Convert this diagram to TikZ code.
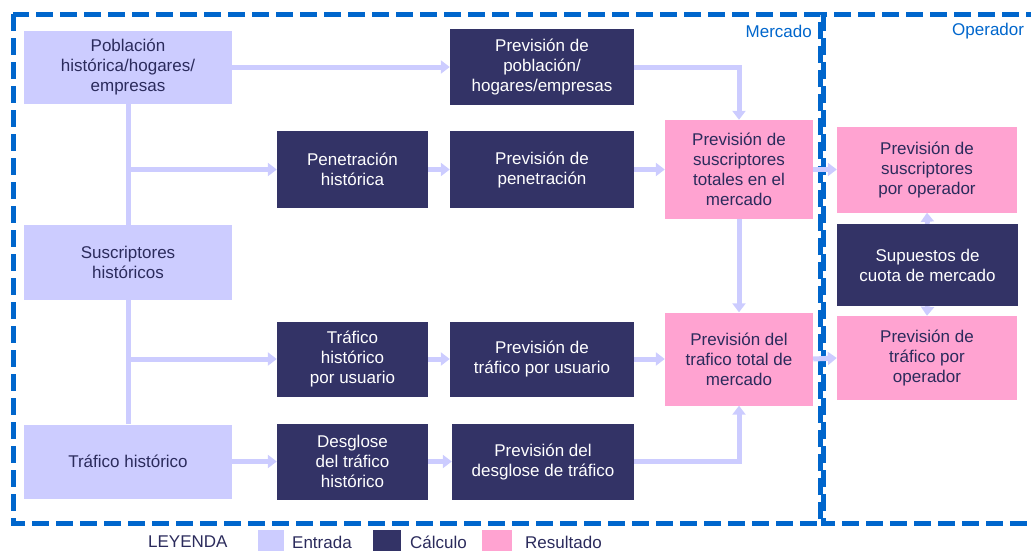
\documentclass[tikz,border=0pt]{standalone}
\usepackage{fontspec}
\setmainfont{Liberation Sans}
\usetikzlibrary{arrows.meta}
\definecolor{navy}{HTML}{333366}
\definecolor{lav}{HTML}{CCCCFF}
\definecolor{pinkr}{HTML}{FFA3D1}
\definecolor{dblue}{HTML}{0066CC}
\definecolor{txtnavy}{HTML}{2B2B5C}
\begin{document}
\begin{tikzpicture}[x=1pt,y=-1pt,
 box/.style={rectangle, inner sep=2pt, align=center, font=\fontsize{17}{20}\selectfont},
 sz/.style 2 args={minimum width=#1pt, minimum height=#2pt},
 inbox/.style={box, fill=lav, text=txtnavy},
 calcbox/.style={box, fill=navy, text=white},
 resbox/.style={box, fill=pinkr, text=txtnavy},
 conn/.style={draw=lav, line width=5pt},
 arr/.style={conn, -{Triangle[width=13pt,length=9pt]}},
 region/.style={draw=dblue, line width=5pt, dash pattern=on 17pt off 7pt},
 rlabel/.style={text=dblue, font=\fontsize{17}{20}\selectfont, inner sep=0pt},
 legtext/.style={text=txtnavy, font=\fontsize{17}{20}\selectfont, inner sep=0pt},
 legsq/.style={rectangle, minimum width=#1, minimum height=24pt, inner sep=0pt},
]
\useasboundingbox (0,0) rectangle (1031,550);
\clip (0,0) rectangle (1031,550);

% regions
\draw[region] (13,14) rectangle (820,523);
\draw[region] (823,14) rectangle (1060,523);
\node[rlabel, anchor=east] (lmerc) at (812,31) {Mercado};
\node[rlabel, anchor=west] (loper) at (952,31) {Operador};

% inputs
\node[inbox, sz={208}{73}] (p1) at (128,67) {Población\\histórica/hogares/\\empresas};
\node[inbox, sz={208}{75}] (p2) at (128,262.5) {Suscriptores\\históricos};
\node[inbox, sz={208}{74}] (p3) at (128,461.5) {Tráfico histórico};

% calculations
\node[calcbox, sz={151}{77}] (p4) at (352.5,169.5) {Penetración\\histórica};
\node[calcbox, sz={184}{76}] (p5) at (542,67) {Previsión de\\población/\\hogares/empresas};
\node[calcbox, sz={184}{77}] (p6) at (542,169.5) {Previsión de\\penetración};
\node[calcbox, sz={151}{75}] (p7) at (352.5,359) {Tráfico\\histórico\\por usuario};
\node[calcbox, sz={184}{75}] (p8) at (542,359) {Previsión de\\tráfico por usuario};
\node[calcbox, sz={151}{76}] (p9) at (352.5,461.5) {Desglose\\del tráfico\\histórico};
\node[calcbox, sz={182}{76}] (p10) at (543,461.5) {Previsión del\\desglose de tráfico};

% results
\node[resbox, sz={148}{99}] (p11) at (739,169.5) {Previsión de\\suscriptores\\totales en el\\mercado};
\node[resbox, sz={148}{93}] (p12) at (739,359) {Previsión del\\trafico total de\\mercado};
\node[resbox, sz={180}{86}] (p13) at (927,169.5) {Previsión de\\suscriptores\\por operador};
\node[calcbox, sz={181}{82}] (p14) at (927.5,265) {Supuestos de\\cuota de mercado};
\node[resbox, sz={180}{84}] (p15) at (927,358) {Previsión de\\tráfico por\\operador};

% connectors
\draw[conn] (p1.south) -- (p2.north);
\draw[conn] (p2.south) -- (p3.north);
\draw[arr] (p1.east) -- (p5.west);
\draw[arr] (p5.east) -| (p11.north);
\draw[arr] (p1.south |- p4.west) -- (p4.west);
\draw[arr] (p4.east) -- (p6.west);
\draw[arr] (p6.east) -- (p11.west);
\draw[arr] (p11.south) -- (p12.north);
\draw[arr] (p1.south |- p7.west) -- (p7.west);
\draw[arr] (p7.east) -- (p8.west);
\draw[arr] (p8.east) -- (p12.west);
\draw[arr] (p3.east) -- (p9.west);
\draw[arr] (p9.east) -- (p10.west);
\draw[arr] (p10.east) -| (p12.south);
\draw[arr] (p11.east) -- (p13.west);
\draw[arr] (p12.east) -- (p15.west);
\draw[arr] (p14.north) -- (p13.south);
\draw[arr] (p14.south) -- (p15.north);

% legend
\node[legtext, anchor=west] (ley) at (148,542) {LEYENDA};
\node[legsq=26pt, fill=lav, anchor=north west] (sq1) at (258,530) {};
\node[legtext, anchor=west] (le1) at (292,542) {Entrada};
\node[legsq=28pt, fill=navy, anchor=north west] (sq2) at (373,530) {};
\node[legtext, anchor=west] (le2) at (410,542) {Cálculo};
\node[legsq=30pt, fill=pinkr, anchor=north west] (sq3) at (482,530) {};
\node[legtext, anchor=west] (le3) at (525,542) {Resultado};
\end{tikzpicture}
\end{document}
